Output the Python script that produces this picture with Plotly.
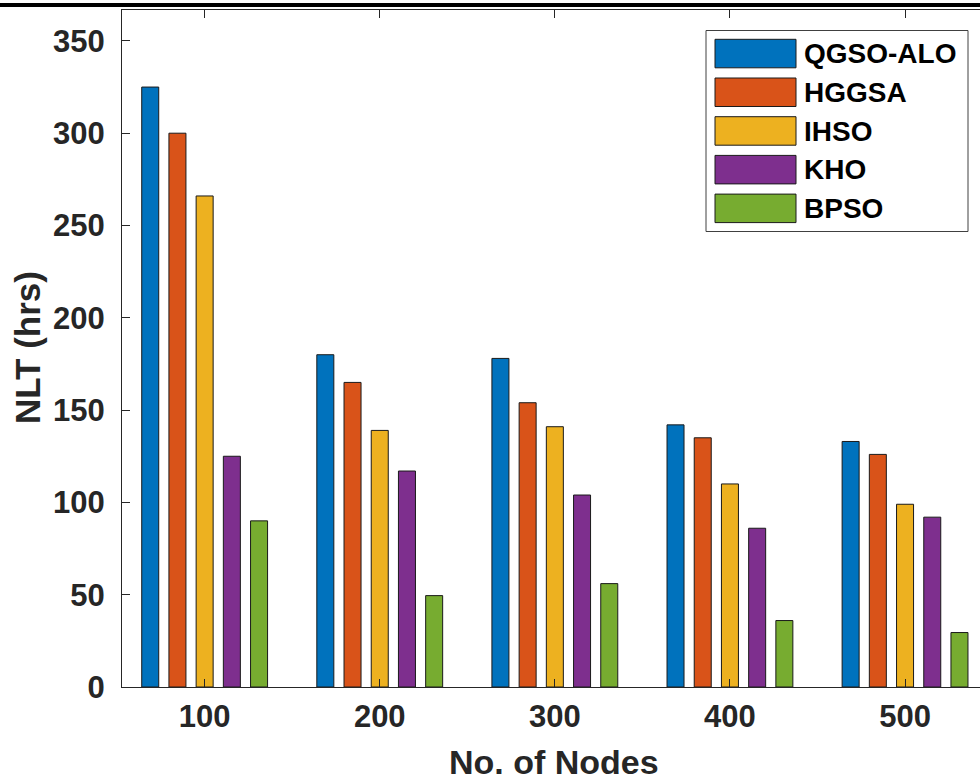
import plotly.graph_objects as go

# ---- data ----
nodes = [100, 200, 300, 400, 500]
series_names = ["QGSO-ALO", "HGGSA", "IHSO", "KHO", "BPSO"]
qgso_alo = [325, 180, 178, 142, 133]
hggsa = [300, 165, 154, 135, 126]
ihso = [266, 139, 141, 110, 99]
kho = [125, 117, 104, 86, 92]
bpso = [90, 49.5, 56, 36, 29.5]
tick_labels = ["100", "200", "300", "400", "500"]
y_ticks = [0, 50, 100, 150, 200, 250, 300, 350]

colors = ["#0072BD", "#D95319", "#EDB120", "#7E2F8E", "#77AC30"]
series_values = [qgso_alo, hggsa, ihso, kho, bpso]

FONT = "Liberation Sans"
AX = "#262626"

# plot area geometry (pixels)
W_FIG, H_FIG = 980, 782
L, T = 122, 10
PW, PH = W_FIG - L, 677
B = H_FIG - T - PH


def px(x):
    return (x - L) / PW


def py(y):
    return (T + PH - y) / PH


fig = go.Figure()
for name, vals, col in zip(series_names, series_values, colors):
    fig.add_trace(go.Bar(
        x=nodes, y=vals, name=name,
        marker=dict(color=col, line=dict(color="#1a1a1a", width=1)),
        showlegend=False,
    ))

shapes = []
annotations = []

# thick black rule at top of the image
shapes.append(dict(type="line", xref="paper", yref="paper",
                   x0=px(0), x1=px(W_FIG), y0=py(5), y1=py(5),
                   line=dict(color="black", width=4)))

# custom legend (wide swatches like MATLAB)
shapes.append(dict(type="rect", xref="paper", yref="paper",
                   x0=px(706), x1=px(968), y0=py(231.5), y1=py(30.5),
                   line=dict(color="#404040", width=1), fillcolor="white", layer="above"))
for i, (name, col) in enumerate(zip(series_names, colors)):
    top = 39.3 + i * 38.7
    shapes.append(dict(type="rect", xref="paper", yref="paper",
                       x0=px(715), x1=px(796), y0=py(top + 28.5), y1=py(top),
                       line=dict(color="#1a1a1a", width=1), fillcolor=col, layer="above"))
    annotations.append(dict(xref="paper", yref="paper", x=px(802), y=py(top + 14.5),
                            text=name, showarrow=False, xanchor="left", yanchor="middle",
                            font=dict(family=FONT, size=28, color="black", weight="bold")))

# axis titles
annotations.append(dict(xref="paper", yref="paper", x=px(554), y=py(761.5),
                        text="No. of Nodes", showarrow=False, xanchor="center", yanchor="middle",
                        font=dict(family=FONT, size=34, color=AX, weight="bold")))
annotations.append(dict(xref="paper", yref="paper", x=px(28), y=py(348),
                        text="NLT (hrs)", showarrow=False, textangle=-90,
                        xanchor="center", yanchor="middle",
                        font=dict(family=FONT, size=35, color=AX, weight="bold")))

fig.update_layout(
    width=W_FIG, height=H_FIG,
    margin=dict(l=L, r=0, t=T, b=B),
    paper_bgcolor="white", plot_bgcolor="white",
    barmode="group", bargap=0.223, bargroupgap=0.375,
    shapes=shapes, annotations=annotations,
    showlegend=False,
    xaxis=dict(
        range=[52.8, 52.8 + PW / 1.751],
        tickvals=nodes, ticktext=tick_labels,
        ticks="inside", ticklen=8, tickwidth=1, tickcolor=AX,
        showline=True, linecolor=AX, linewidth=1, mirror="ticks",
        showgrid=False, zeroline=False,
        tickfont=dict(family=FONT, size=31, color=AX, weight="bold"),
        ticklabelstandoff=2,
    ),
    yaxis=dict(
        range=[0, PH / 1.846],
        tickvals=y_ticks,
        ticks="inside", ticklen=8, tickwidth=1, tickcolor=AX,
        showline=True, linecolor=AX, linewidth=1, mirror=False,
        showgrid=False, zeroline=False,
        tickfont=dict(family=FONT, size=31, color=AX, weight="bold"),
        ticklabelstandoff=10,
    ),
)

fig.write_html(
    "out.html",
    config={"displayModeBar": False},
    post_script="document.body.style.margin='0';document.body.style.overflow='hidden';",
)
